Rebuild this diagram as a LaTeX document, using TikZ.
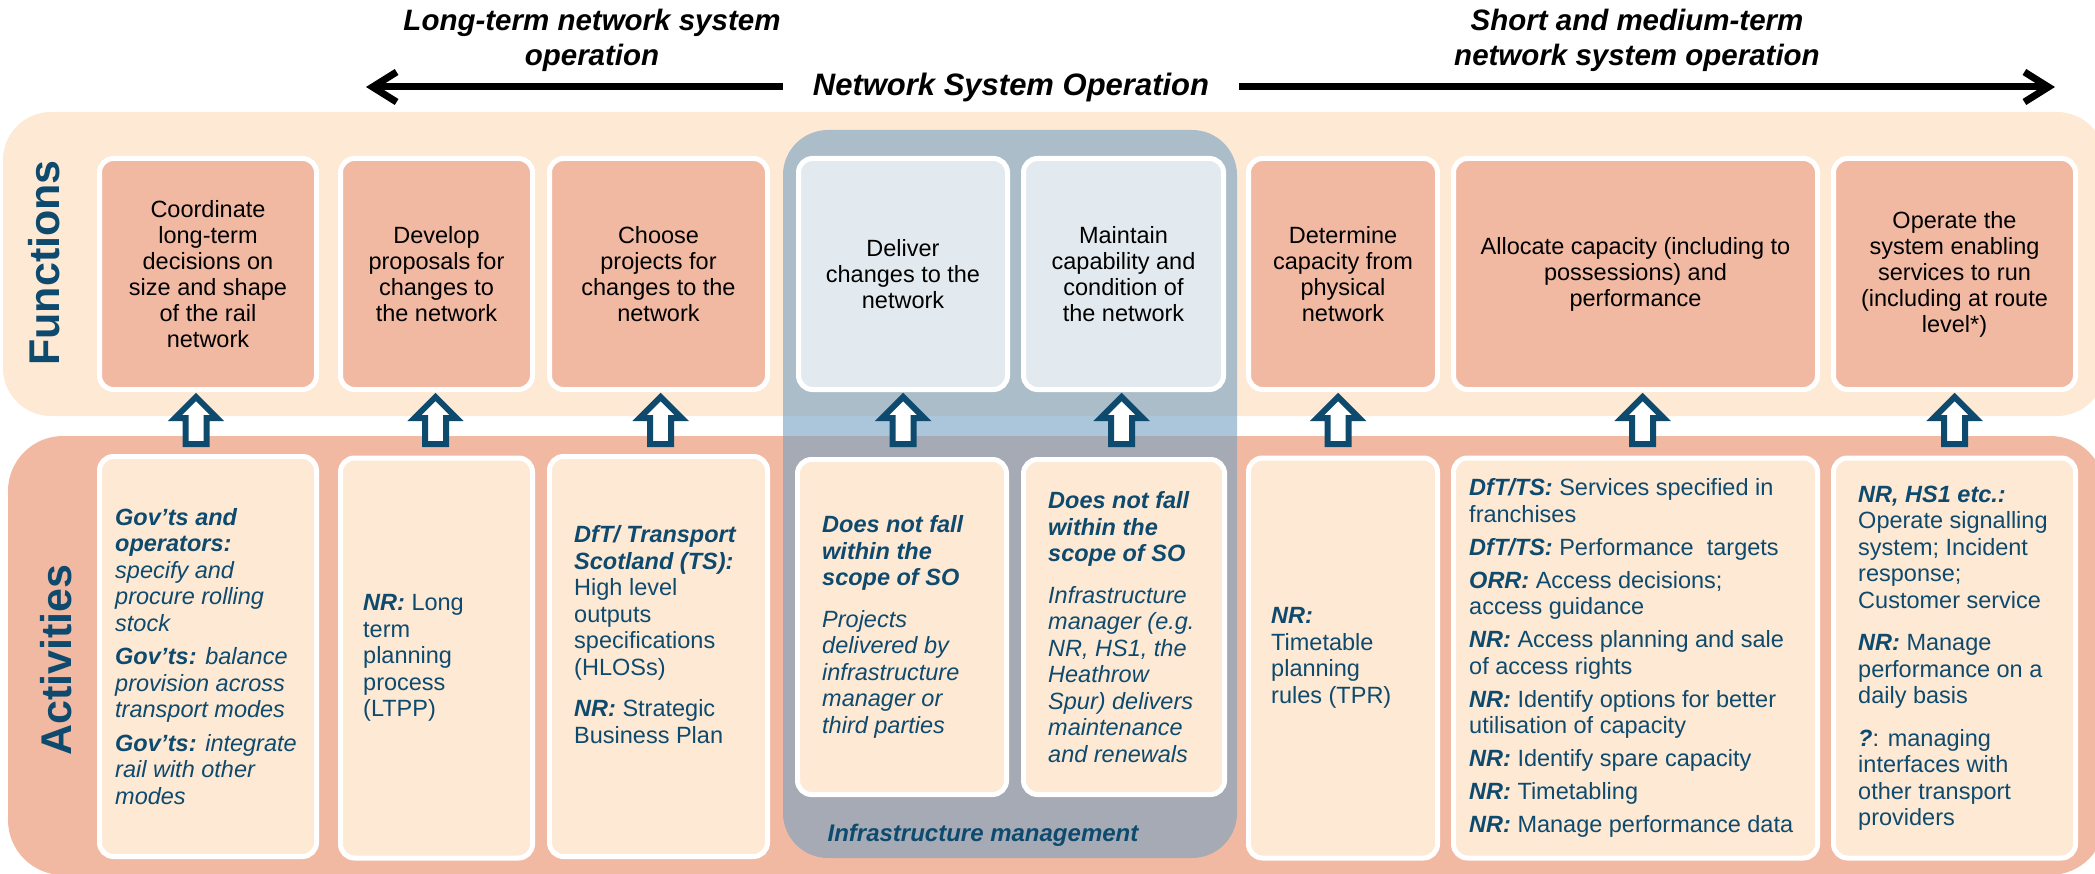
\documentclass[tikz,border=0pt]{standalone}
\usepackage{fontspec}
\setmainfont{Liberation Sans}
\usepackage{tikz}
\usetikzlibrary{positioning, arrows.meta}
\usepackage{xcolor}
\definecolor{peach}{RGB}{253,233,212}
\definecolor{salmon}{RGB}{242,185,162}
\definecolor{paleblue}{RGB}{227,234,239}
\definecolor{imblue}{RGB}{115,160,195}
\definecolor{navy}{RGB}{13,74,110}
\newcommand{\who}[1]{\textbf{\textit{#1}}}
\tikzset{
	x=1pt, y=-1pt,
	>={Straight Barb[length=24pt,width=30pt]},
	box/.style={draw=white, line width=5pt, rounded corners=14pt, inner sep=0pt},
	funbox/.style={box, fill=salmon, minimum height=231pt, align=center, font=\fontsize{23.5}{26}\selectfont},
	imfunbox/.style={funbox, fill=paleblue},
	actbox/.style={box, fill=peach, minimum height=400pt},
	imactbox/.style={box, fill=peach, minimum height=335pt},
	acttext/.style={anchor=west, inner sep=0pt, align=left, text=navy, font=\fontsize{23.5}{26.5}\selectfont},
	title/.style={align=center, font=\fontsize{29.5}{35}\selectfont\bfseries\itshape},
	rowlabel/.style={rotate=90, text=navy, font=\fontsize{43}{43}\selectfont\bfseries},
	bigarrow/.style={line width=7pt, ->},
	uparrow/.pic={\draw[navy, fill=white, line width=6pt] (0,5) -- (21,26) -- (10.5,26) -- (10.5,52) -- (-10.5,52) -- (-10.5,26) -- (-21,26) -- cycle;}
}

\begin{document}
\begin{tikzpicture}
	\useasboundingbox (0,0) rectangle (2095,874);

	\fill[peach, rounded corners=48pt] (3,112) rectangle (2105,416);
	\fill[salmon, rounded corners=55pt] (8,436) rectangle (2105,875);
	\fill[imblue, opacity=0.6, rounded corners=45pt] (783,130) rectangle (1237,858);

	\node[rowlabel] (fun) at (44,263) {Functions};
	\node[rowlabel] (act) at (56,660) {Activities};

	\node[title] (lt) at (592,40) {Long-term network system\\operation};
	\node[title] (st) at (1637,40) {Short and medium-term\\network system operation};
	\node[title, font=\fontsize{31}{35}\selectfont\bfseries\itshape, inner xsep=30pt] (nso) at (1011,87) {Network System Operation};
	\coordinate (lend) at (366,87);
	\coordinate (rend) at (2055,87);
	\draw[bigarrow] (nso.west) -- (lend);
	\draw[bigarrow] (nso.east) -- (rend);

	\node[funbox, minimum width=217pt] (f1) at (208,274) {Coordinate\\long-term\\decisions on\\size and shape\\of the rail\\network};
	\node[funbox, minimum width=192pt] (f2) at (436.5,274) {Develop\\proposals for\\changes to\\the network};
	\node[funbox, minimum width=218pt] (f3) at (658.5,274) {Choose\\projects for\\changes to the\\network};
	\node[imfunbox, minimum width=209pt] (f4) at (903,274) {Deliver\\changes to the\\network};
	\node[imfunbox, minimum width=200pt] (f5) at (1123.5,274) {Maintain\\capability and\\condition of\\the network};
	\node[funbox, minimum width=189pt] (f6) at (1343,274) {Determine\\capacity from\\physical\\network};
	\node[funbox, minimum width=364pt] (f7) at (1635.5,274) {Allocate capacity (including to\\possessions) and\\performance};
	\node[funbox, minimum width=242pt] (f8) at (1954.5,274) {Operate the\\system enabling\\services to run\\(including at route\\level*)};

	\node[actbox, minimum width=217pt] (a1) at (208,656.5) {};
	\node[actbox, minimum width=192pt] (a2) at (436.5,658) {};
	\node[actbox, minimum width=218pt] (a3) at (658.5,656.5) {};
	\node[imactbox, minimum width=209pt] (a4) at (902,627) {};
	\node[imactbox, minimum width=201pt] (a5) at (1124,627) {};
	\node[actbox, minimum width=189pt] (a6) at (1343,658) {};
	\node[actbox, minimum width=364pt] (a7) at (1635.5,658) {};
	\node[actbox, minimum width=242pt] (a8) at (1954.5,658) {};

	\node[acttext] (t1) at ([xshift=18pt]a1.west) {\who{Gov’ts and}\\\who{operators:}\\\textit{specify and}\\\textit{procure rolling}\\\textit{stock}\\[7pt]
		\who{Gov’ts:} \textit{balance}\\\textit{provision across}\\\textit{transport modes}\\[7pt]
		\who{Gov’ts:} \textit{integrate}\\\textit{rail with other}\\\textit{modes}};
	\node[acttext] (t2) at ([xshift=25pt]a2.west) {\who{NR:} Long\\term\\planning\\process\\(LTPP)};
	\node[acttext] (t3) at ([xshift=27pt,yshift=22pt]a3.west) {\who{DfT/ Transport}\\\who{Scotland (TS):}\\High level\\outputs\\specifications\\(HLOSs)\\[15pt]
		\who{NR:} Strategic\\Business Plan};
	\node[acttext] (t4) at ([xshift=27pt]a4.west) {\who{Does not fall}\\\who{within the}\\\who{scope of SO}\\[15pt]
		\textit{Projects}\\\textit{delivered by}\\\textit{infrastructure}\\\textit{manager or}\\\textit{third parties}};
	\node[acttext] (t5) at ([xshift=27pt]a5.west) {\who{Does not fall}\\\who{within the}\\\who{scope of SO}\\[15pt]
		\textit{Infrastructure}\\\textit{manager (e.g.}\\\textit{NR, HS1, the}\\\textit{Heathrow}\\\textit{Spur) delivers}\\\textit{maintenance}\\\textit{and renewals}};
	\node[acttext] (t6) at ([xshift=25pt]a6.west) {\who{NR:}\\Timetable\\planning\\rules (TPR)};
	\node[acttext] (t7) at ([xshift=18pt]a7.west) {\who{DfT/TS:} Services specified in\\franchises\\[6.5pt]
		\who{DfT/TS:} Performance~ targets\\[6.5pt]
		\who{ORR:} Access decisions;\\access guidance\\[6.5pt]
		\who{NR:} Access planning and sale\\of access rights\\[6.5pt]
		\who{NR:} Identify options for better\\utilisation of capacity\\[6.5pt]
		\who{NR:} Identify spare capacity\\[6.5pt]
		\who{NR:} Timetabling\\[6.5pt]
		\who{NR:} Manage performance data};
	\node[acttext] (t8) at ([xshift=27pt]a8.west) {\who{NR, HS1 etc.:}\\Operate signalling\\system; Incident\\response;\\Customer service\\[16pt]
		\who{NR:} Manage\\performance on a\\daily basis\\[16pt]
		\who{?}: managing\\interfaces with\\other transport\\providers};

	\node[text=navy, font=\fontsize{24}{26}\selectfont\bfseries\itshape] (iml) at (983,835) {Infrastructure management};

	\pic at ([xshift=-12pt]f1.south) {uparrow};
	\pic at ([xshift=-1pt]f2.south) {uparrow};
	\pic at ([xshift=2pt]f3.south) {uparrow};
	\pic at (f4.south) {uparrow};
	\pic at ([xshift=-2pt]f5.south) {uparrow};
	\pic at ([xshift=-5pt]f6.south) {uparrow};
	\pic at ([xshift=7pt]f7.south) {uparrow};
	\pic at (f8.south) {uparrow};
\end{tikzpicture}
\end{document}
